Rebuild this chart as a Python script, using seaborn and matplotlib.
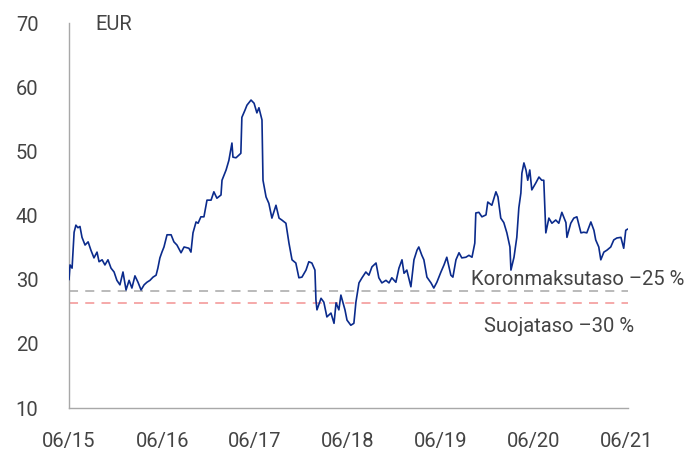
import matplotlib
matplotlib.use("Agg")
import matplotlib.pyplot as plt
import seaborn as sns
import pandas as pd

dates = [
    "2015-06-01", "2015-06-05", "2015-06-13", "2015-06-21", "2015-06-28", "2015-07-06", "2015-07-14",
    "2015-07-22", "2015-08-03", "2015-08-15", "2015-08-26", "2015-09-07", "2015-09-19", "2015-09-27",
    "2015-10-09", "2015-10-20", "2015-11-01", "2015-11-13", "2015-11-25", "2015-12-06", "2015-12-18",
    "2015-12-30", "2016-01-11", "2016-01-23", "2016-02-03", "2016-02-15", "2016-02-27", "2016-03-10",
    "2016-03-22", "2016-04-02", "2016-04-14", "2016-04-26", "2016-05-08", "2016-05-15", "2016-05-23",
    "2016-05-31", "2016-06-08", "2016-06-20", "2016-07-06", "2016-07-17", "2016-07-29", "2016-08-14",
    "2016-08-26", "2016-09-14", "2016-09-22", "2016-09-30", "2016-10-12", "2016-10-20", "2016-10-31",
    "2016-11-12", "2016-11-24", "2016-12-10", "2016-12-21", "2017-01-02", "2017-01-18", "2017-01-22",
    "2017-02-07", "2017-02-18", "2017-03-02", "2017-03-06", "2017-03-18", "2017-04-06", "2017-04-10",
    "2017-04-22", "2017-04-30", "2017-05-16", "2017-05-28", "2017-06-08", "2017-06-16", "2017-06-28",
    "2017-07-02", "2017-07-14", "2017-07-25", "2017-08-06", "2017-08-22", "2017-09-03", "2017-09-14",
    "2017-09-30", "2017-10-12", "2017-10-24", "2017-11-08", "2017-11-20", "2017-12-02", "2017-12-18",
    "2017-12-29", "2018-01-10", "2018-01-22", "2018-01-26", "2018-01-30", "2018-02-15", "2018-02-26",
    "2018-03-10", "2018-03-26", "2018-04-07", "2018-04-15", "2018-04-26", "2018-05-04", "2018-05-20",
    "2018-05-28", "2018-06-12", "2018-06-24", "2018-07-02", "2018-07-14", "2018-07-26", "2018-08-10",
    "2018-08-22", "2018-09-03", "2018-09-19", "2018-09-30", "2018-10-12", "2018-10-28", "2018-11-09",
    "2018-11-20", "2018-12-06", "2018-12-18", "2018-12-30", "2019-01-07", "2019-01-18", "2019-02-03",
    "2019-02-15", "2019-02-27", "2019-03-06", "2019-03-18", "2019-03-26", "2019-04-07", "2019-04-23",
    "2019-05-04", "2019-05-16", "2019-06-01", "2019-06-13", "2019-06-24", "2019-07-10", "2019-07-18",
    "2019-07-30", "2019-08-11", "2019-08-22", "2019-09-07", "2019-09-19", "2019-10-01", "2019-10-12",
    "2019-10-16", "2019-10-28", "2019-11-09", "2019-11-25", "2019-12-02", "2019-12-18", "2020-01-03",
    "2020-01-11", "2020-01-22", "2020-02-03", "2020-02-15", "2020-02-27", "2020-03-02", "2020-03-14",
    "2020-03-25", "2020-04-02", "2020-04-10", "2020-04-14", "2020-04-22", "2020-04-30", "2020-05-07",
    "2020-05-15", "2020-05-23", "2020-06-08", "2020-06-20", "2020-07-01", "2020-07-09", "2020-07-17",
    "2020-07-29", "2020-08-10", "2020-08-25", "2020-09-06", "2020-09-18", "2020-10-04", "2020-10-08",
    "2020-10-23", "2020-11-04", "2020-11-16", "2020-12-02", "2020-12-13", "2020-12-25", "2021-01-10",
    "2021-01-22", "2021-01-29", "2021-02-10", "2021-02-18", "2021-03-02", "2021-03-14", "2021-03-29",
    "2021-04-10", "2021-04-22", "2021-05-08", "2021-05-19", "2021-05-27", "2021-06-04",
]

price_eur = [
    30.0, 32.3, 31.8, 37.4, 38.5, 38.1, 38.3,
    36.6, 35.4, 35.9, 34.6, 33.4, 34.3, 32.8,
    33.1, 32.3, 33.1, 31.8, 31.2, 29.9, 29.2,
    31.2, 28.4, 29.9, 28.7, 30.6, 29.6, 28.4,
    29.2, 29.6, 29.9, 30.4, 30.7, 31.8, 33.4,
    34.3, 35.1, 37.0, 37.0, 35.9, 35.4, 34.2,
    35.1, 34.9, 34.3, 37.3, 39.0, 38.8, 39.8,
    39.8, 42.4, 42.4, 43.7, 42.7, 43.2, 45.5,
    47.1, 48.6, 51.3, 49.1, 49.0, 49.7, 55.3,
    56.4, 57.2, 58.0, 57.5, 56.0, 56.8, 54.9,
    45.5, 42.9, 41.9, 39.6, 41.6, 39.6, 39.3,
    38.8, 35.7, 33.1, 32.6, 30.3, 30.4, 31.5,
    32.8, 32.6, 31.5, 26.8, 25.3, 27.1, 26.5,
    24.2, 24.8, 23.2, 26.4, 25.3, 27.6, 25.3,
    23.7, 22.9, 23.2, 26.5, 29.5, 30.3, 31.2,
    30.7, 32.0, 32.6, 30.3, 29.5, 29.9, 29.5,
    30.3, 29.6, 31.8, 33.1, 31.0, 31.5, 28.9,
    33.1, 34.6, 35.1, 33.8, 33.1, 30.4, 29.5,
    28.7, 29.6, 31.2, 32.3, 33.5, 30.7, 30.4,
    33.1, 34.2, 33.4, 33.5, 33.8, 33.5, 35.7,
    40.4, 40.5, 39.8, 40.1, 42.1, 41.6, 43.7,
    42.9, 39.6, 38.9, 37.3, 35.1, 31.5, 33.5,
    36.6, 41.2, 43.5, 46.6, 48.2, 47.1, 45.5,
    47.1, 44.0, 45.1, 46.0, 45.5, 45.5, 37.3,
    39.6, 38.8, 39.3, 38.8, 40.5, 38.9, 36.6,
    38.8, 39.6, 39.8, 37.3, 37.4, 37.3, 39.0,
    37.7, 36.2, 35.1, 33.1, 34.3, 34.6, 35.1,
    36.2, 36.5, 36.6, 34.9, 37.7, 37.9,
]

tick_dates = ["2015-06-01", "2016-06-01", "2017-06-01", "2018-06-01",
              "2019-06-01", "2020-06-01", "2021-06-01"]
tick_labels = ["06/15", "06/16", "06/17", "06/18", "06/19", "06/20", "06/21"]
y_ticks = [10, 20, 30, 40, 50, 60, 70]

level_interest = 28.2   # Koronmaksutaso -25 %
level_hedge = 26.4      # Suojataso -30 %
label_interest = "Koronmaksutaso \u201325 %"
label_hedge = "Suojataso \u201330 %"
unit_label = "EUR"

sns.set_theme(style="white")
plt.rcParams["font.family"] = ["Roboto", "DejaVu Sans"]

df = pd.DataFrame({"date": pd.to_datetime(dates), "price": price_eur})

fig = plt.figure(figsize=(7.0, 4.53), dpi=100)
ax = fig.add_axes([0.0986, 0.0993, 0.7986, 0.8498])

txt = "#444444"
fs = 14.5
fw = "normal"
ax.axhline(level_interest, color="#b4b4b4", lw=1.3, ls=(0, (5, 4)), zorder=1)
ax.axhline(level_hedge, color="#f4a3a3", lw=1.3, ls=(0, (5, 4)), zorder=1)

sns.lineplot(data=df, x="date", y="price", ax=ax, color="#0b2b8c", lw=1.2, zorder=3)

ax.set_ylim(10, 70)
ax.set_yticks(y_ticks)
ax.set_xlim(pd.Timestamp("2015-06-01"), pd.Timestamp("2021-06-05"))
ax.set_xticks(pd.to_datetime(tick_dates))
ax.set_xticklabels(tick_labels)
ax.set_xlabel("")
ax.set_ylabel("")

for s in ["top", "right"]:
    ax.spines[s].set_visible(False)
for s in ["left", "bottom"]:
    ax.spines[s].set_color("#a8a8a8")
    ax.spines[s].set_linewidth(1.0)

ax.tick_params(axis="y", length=0, pad=22, labelsize=fs, labelcolor=txt)
ax.tick_params(axis="x", length=0, pad=17, labelsize=fs, labelcolor=txt)
for lab in ax.get_xticklabels() + ax.get_yticklabels():
    lab.set_fontweight(fw)

fig.text(0.136, 0.947, unit_label, fontsize=fs, fontweight=fw, color=txt, ha="left", va="center")
fig.text(0.977, 0.384, label_interest, fontsize=fs, fontweight=fw, color=txt, ha="right", va="center")
fig.text(0.906, 0.280, label_hedge, fontsize=fs, fontweight=fw, color=txt, ha="right", va="center")

fig.savefig("out.png", dpi=100)
